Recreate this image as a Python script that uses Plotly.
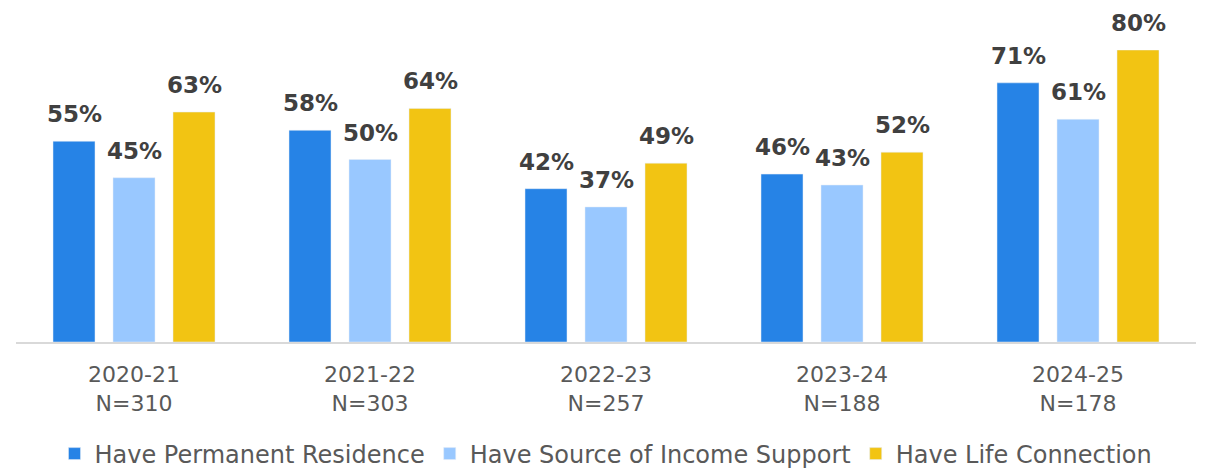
import plotly.graph_objects as go

years = ["2020-21", "2021-22", "2022-23", "2023-24", "2024-25"]
n_values = [310, 303, 257, 188, 178]
categories = [f"{y}<br>N={n}" for y, n in zip(years, n_values)]

series_names = ["Have Permanent Residence", "Have Source of Income Support", "Have Life Connection"]
permanent_residence = [0.55, 0.58, 0.42, 0.46, 0.71]
income_support = [0.45, 0.50, 0.37, 0.43, 0.61]
life_connection = [0.63, 0.64, 0.49, 0.52, 0.80]
colors = ["#2683E6", "#99C8FF", "#F2C413"]

FONT = "DejaVu Sans"

fig = go.Figure()
all_series = [permanent_residence, income_support, life_connection]
for name, vals, col in zip(series_names, all_series, colors):
    fig.add_trace(go.Bar(
        x=categories, y=vals, name=name, marker_color=col,
        hoverinfo="skip",
    ))

# value labels above each bar (offset horizontally to each bar of the group)
for i, vals in enumerate(all_series):
    for cat, v in zip(categories, vals):
        fig.add_annotation(
            x=cat, y=v, xref="x", yref="y", text=f"<b>{round(v*100)}%</b>",
            showarrow=False, yanchor="bottom", xanchor="center",
            xshift=(i - 1) * 60, yshift=12,
            font=dict(family=FONT, size=23, color="#404040"),
        )

fig.update_layout(
    width=1205, height=469,
    margin=dict(l=16, r=9, t=50, b=127, autoexpand=False),
    paper_bgcolor="white", plot_bgcolor="white",
    barmode="group", bargap=0.2373, bargroupgap=0.3,
    font=dict(family=FONT, color="#595959"),
    showlegend=True,
    legend=dict(orientation="h", x=0.5, xanchor="center", yref="container", y=1 - 454 / 469, yanchor="middle",
                font=dict(family=FONT, size=24, color="#595959"), traceorder="normal",
                itemwidth=30, tracegroupgap=0),
)
fig.update_xaxes(showline=True, linecolor="#D9D9D9", linewidth=2, ticks="",
                 tickfont=dict(family=FONT, size=22, color="#595959"), ticklabelstandoff=12)
fig.update_yaxes(range=[0, 0.8], visible=False, showgrid=False, zeroline=False)

fig.write_html("out.html", post_script="document.body.style.margin='0';",
               config={"displayModeBar": False})
